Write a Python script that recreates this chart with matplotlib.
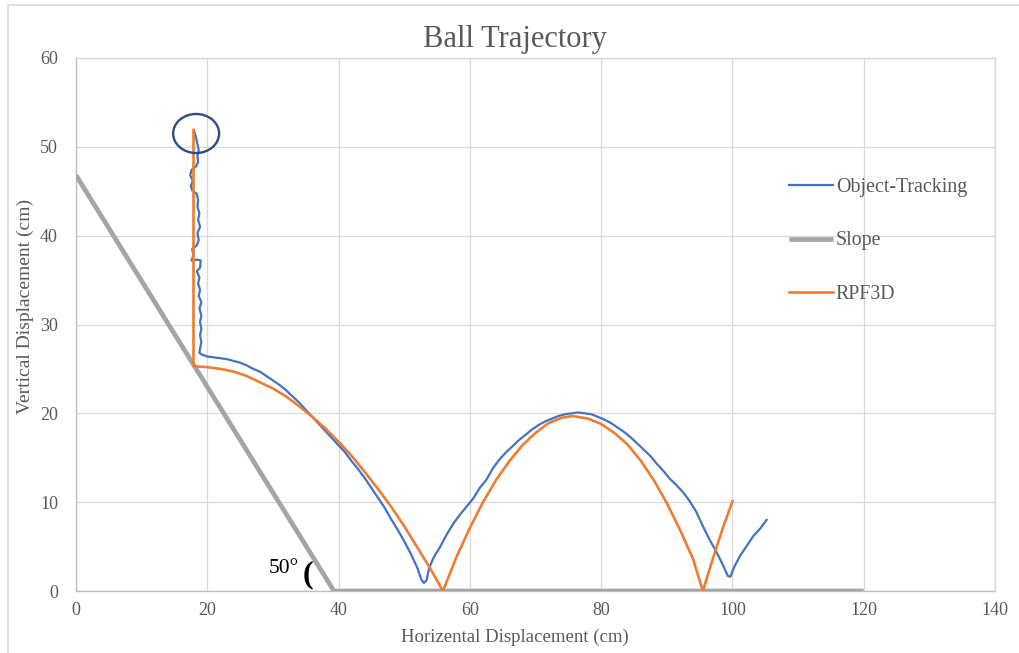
import matplotlib
matplotlib.use("Agg")
import matplotlib.pyplot as plt
from matplotlib.patches import Ellipse, Rectangle

plt.rcParams['font.family'] = ['Liberation Serif', 'DejaVu Serif']

# tracked ball position (cm)
track_x = [18.0, 18.3, 18.5, 18.7, 18.5, 18.6, 18.3, 17.6, 17.4, 17.8, 17.5, 17.7, 18.4, 18.6,
           18.5, 18.8, 18.6, 18.9, 18.5, 18.7, 18.4, 17.7, 17.9, 17.6, 18.5, 19.0, 18.9, 18.4,
           18.8, 18.6, 18.9, 18.7, 19.1, 18.8, 19.1, 18.9, 19.1, 18.9, 19.1, 18.9, 18.8,
           19.2, 20.0, 21.0, 22.0, 23.0, 24.0, 25.0, 26.0, 27.0, 28.0, 29.0, 30.0, 31.0, 32.0,
           33.0, 34.0, 35.0, 36.0, 37.0, 38.0, 39.0, 40.0, 41.0, 42.0, 43.0, 44.0, 45.0, 46.0,
           47.0, 48.0, 49.0, 50.0, 51.0, 52.0, 52.6, 53.0, 53.4, 53.8, 54.5, 55.5, 56.5, 57.5,
           58.5, 59.5, 60.5, 61.5, 62.5, 63.5, 64.5, 65.5, 66.5, 67.5, 68.5, 69.5, 70.5, 71.5,
           72.5, 73.5, 74.5, 75.5, 76.5, 77.5, 78.5, 79.5, 80.5, 81.5, 82.5, 83.5, 84.5, 85.5,
           86.5, 87.5, 88.5, 89.5, 90.5, 91.5, 92.5, 93.5, 94.5, 95.5, 96.5, 97.5, 98.5, 99.3,
           99.7, 100.2, 101.2, 102.2, 103.2, 104.2, 105.2]
track_y = [51.8, 51.0, 50.3, 49.6, 49.0, 48.3, 47.8, 47.4, 46.8, 46.2, 45.6, 45.1, 44.7, 44.0,
           43.3, 42.5, 41.8, 41.0, 40.3, 39.5, 38.9, 38.5, 37.8, 37.2, 37.3, 37.2, 36.4, 36.0,
           35.3, 34.6, 33.9, 33.2, 32.5, 31.8, 31.0, 30.3, 29.5, 28.8, 28.0, 27.3, 26.8,
           26.6, 26.4, 26.3, 26.2, 26.1, 25.9, 25.7, 25.4, 25.0, 24.7, 24.2, 23.7, 23.2, 22.6,
           21.9, 21.2, 20.4, 19.6, 18.8, 18.0, 17.2, 16.4, 15.6, 14.6, 13.7, 12.7, 11.6, 10.5,
           9.4, 8.1, 6.9, 5.6, 4.2, 2.6, 1.3, 0.9, 1.2, 2.6, 3.8, 5.0, 6.4, 7.6,
           8.6, 9.5, 10.4, 11.6, 12.5, 13.8, 14.8, 15.6, 16.3, 17.0, 17.6, 18.2, 18.7, 19.1,
           19.4, 19.7, 19.9, 20.0, 20.1, 20.0, 19.9, 19.6, 19.3, 18.9, 18.4, 17.9, 17.3, 16.6,
           15.9, 15.2, 14.3, 13.5, 12.6, 11.9, 11.1, 10.1, 8.9, 7.3, 5.8, 4.5, 3.0, 1.7,
           1.6, 2.6, 4.0, 5.1, 6.2, 7.0, 8.0]

# ramp profile
slope_x = [0, 39.3, 120]
slope_y = [46.8, 0, 0]

# RPF3D simulation
rpf_x = [17.9, 17.9, 18.0, 20.0, 22.0, 24.0, 26.0, 28.0, 30.0, 32.0, 34.0, 36.0, 38.0, 40.0,
         42.0, 44.0, 46.0, 48.0, 50.0, 52.0, 54.0, 55.9, 58.0, 60.0, 62.0, 64.0, 66.0, 68.0,
         70.0, 72.0, 74.0, 75.7, 78.0, 80.0, 82.0, 84.0, 86.0, 88.0, 90.0, 92.0, 94.0, 95.5,
         97.0, 98.5, 100.0]
rpf_y = [51.9, 25.3, 25.3, 25.2, 25.0, 24.7, 24.2, 23.5, 22.8, 21.9, 20.8, 19.6, 18.3, 16.8,
         15.2, 13.4, 11.5, 9.5, 7.3, 4.9, 2.5, 0.0, 3.9, 7.1, 10.0, 12.5, 14.6, 16.4,
         17.8, 18.9, 19.5, 19.7, 19.4, 18.8, 17.8, 16.5, 14.7, 12.5, 9.9, 6.9, 3.6, 0.0,
         3.6, 7.0, 10.1]

labels = ['Object-Tracking', 'Slope', 'RPF3D']
angle_text = '50°'

text_col = '#595959'
grid_col = '#D9D9D9'

fig = plt.figure(figsize=(10.19, 6.53), dpi=100)
ax = fig.add_axes([76 / 1019, 1 - 591 / 653, 919 / 1019, 533 / 653])

ax.plot(track_x, track_y, color='#4472C4', lw=1.6, label=labels[0], zorder=3)
ax.plot(slope_x, slope_y, color='#A5A5A5', lw=3.4, label=labels[1], zorder=4,
        solid_capstyle='butt')
ax.plot(rpf_x, rpf_y, color='#ED7D31', lw=1.9, label=labels[2], zorder=5)

ax.add_patch(Ellipse((18.3, 51.5), 7.0, 4.4, fill=False, ec='#2F4B8A', lw=1.7, zorder=6))
ax.text(31.7, 2.5, angle_text, fontsize=15.5, color='black', ha='center', va='center')
ax.text(35.3, 1.8, '(', fontsize=23, fontweight='bold', color='black', ha='center', va='center')

ax.set_xlim(0, 140)
ax.set_ylim(0, 60)
ax.set_xticks(range(0, 141, 20))
ax.set_yticks(range(0, 61, 10))
ax.grid(True, color=grid_col, lw=0.9, zorder=0)
ax.set_axisbelow(True)
ax.tick_params(length=0, labelsize=13, labelcolor=text_col)
ax.tick_params(axis='x', pad=8)
ax.tick_params(axis='y', pad=13)
for side in ['top', 'right']:
    ax.spines[side].set_color(grid_col)
for side in ['left', 'bottom']:
    ax.spines[side].set_color('#BFBFBF')
for sp in ax.spines.values():
    sp.set_linewidth(1.0)

fig.text(514.5 / 1019, 1 - 40 / 653, 'Ball Trajectory', fontsize=22, color=text_col,
         ha='center', va='center')
fig.text(515 / 1019, 1 - 637 / 653, 'Horizental Displacement (cm)', fontsize=13.5,
         color=text_col, ha='center', va='center')
fig.text(25 / 1019, 1 - 306 / 653, 'Vertical Displacement (cm)', fontsize=14,
         color=text_col, ha='center', va='center', rotation=90)

leg = ax.legend(loc='center left', bbox_to_anchor=(789 / 1019, 1 - 241 / 653),
                bbox_transform=fig.transFigure, frameon=False, fontsize=14.3,
                handlelength=2.2, handletextpad=0.15, labelspacing=1.72,
                borderpad=0, borderaxespad=0)
for t in leg.get_texts():
    t.set_color(text_col)

# outer chart frame
fig.patches.append(Rectangle((8 / 1019, -0.1), 1.2, 1.1 - 5 / 653, fill=False,
                             ec=grid_col, lw=1.2, transform=fig.transFigure, figure=fig))

fig.savefig('out.png', dpi=100)
